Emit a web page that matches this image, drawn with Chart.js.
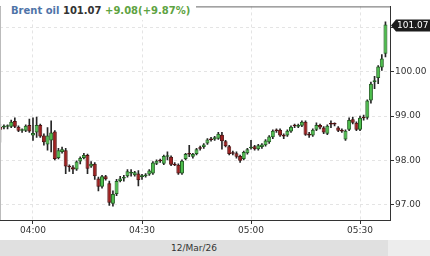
<!DOCTYPE html>
<html><head><meta charset="utf-8">
<script src="https://cdn.jsdelivr.net/npm/chart.js@4.4.1/dist/chart.umd.min.js"></script>
<style>
html,body{margin:0;padding:0;background:#fff;}
#wrap{position:relative;width:430px;height:256px;overflow:hidden;font-family:"DejaVu Sans",Verdana,sans-serif;}
#c{position:absolute;left:0;top:0;}
#title{position:absolute;left:1px;top:1px;height:19px;padding:4px 6px 0 10px;box-sizing:border-box;background:#fff;font-size:10px;font-weight:bold;line-height:12px;white-space:nowrap;}
#title .n{color:#4f74a8;}
#title .p{color:#333;}
#title .ch{color:#5ea342;}
#band{position:absolute;left:0;top:240px;width:388px;height:16px;background:#e0e0e0;font-size:9px;color:#333;text-align:center;line-height:16px;}
#band2{position:absolute;left:388px;top:240px;width:42px;height:16px;background:#ededed;}
</style>
</head><body>
<div id="wrap">
<canvas id="c" width="430" height="256"></canvas>
<div id="title"><span class="n"></span> <span class="p"></span> <span class="ch"></span></div>
<div id="band"></div><div id="band2"></div>
</div>
<script>
const instrument = 'Brent oil';
const lastPrice = 101.07;
const changeText = '+9.08(+9.87%)';
const dateLabel = '12/Mar/26';

const times = [
 '03:51','03:52','03:53','03:54','03:55','03:56','03:57','03:58','03:59',
 '04:00','04:01','04:02','04:03','04:04','04:05','04:06','04:07','04:08','04:09',
 '04:10','04:11','04:12','04:13','04:14','04:15','04:16','04:17','04:18','04:19',
 '04:20','04:21','04:22','04:23','04:24','04:25','04:26','04:27','04:28','04:29',
 '04:30','04:31','04:32','04:33','04:34','04:35','04:36','04:37','04:38','04:39',
 '04:40','04:41','04:42','04:43','04:44','04:45','04:46','04:47','04:48','04:49',
 '04:50','04:51','04:52','04:53','04:54','04:55','04:56','04:57','04:58','04:59',
 '05:00','05:01','05:02','05:03','05:04','05:05','05:06','05:07','05:08','05:09',
 '05:10','05:11','05:12','05:13','05:14','05:15','05:16','05:17','05:18','05:19',
 '05:20','05:21','05:22','05:23','05:24','05:25','05:26','05:27','05:28','05:29',
 '05:30','05:31','05:32','05:33','05:34','05:35','05:36','05:37'
];
const opens = [
 98.76,98.74,98.76,98.76,98.89,98.76,98.67,98.67,98.80,
 98.56,98.63,98.80,98.56,98.36,98.45,98.65,98.05,98.19,98.23,
 97.86,97.84,97.79,97.97,98.05,98.12,97.86,97.92,97.59,97.40,
 97.64,97.48,97.02,97.24,97.53,97.59,97.64,97.70,97.66,97.70,
 97.62,97.64,97.68,97.70,97.92,97.99,97.92,98.08,98.08,97.92,
 97.90,97.70,98.03,98.14,98.08,98.14,98.27,98.30,98.38,98.47,
 98.47,98.49,98.58,98.43,98.32,98.16,98.16,98.10,98.03,98.16,
 98.27,98.32,98.25,98.30,98.34,98.41,98.52,98.67,98.69,98.58,
 98.56,98.65,98.78,98.76,98.78,98.87,98.60,98.56,98.69,98.80,
 98.74,98.60,98.82,98.82,98.74,98.69,98.47,98.69,98.93,98.85,
 98.69,98.96,98.96,99.35,99.77,99.86,100.10,100.41
];
const highs = [
 98.82,98.80,98.80,98.91,98.96,98.78,98.71,98.80,98.93,
 98.96,98.98,98.82,98.60,98.74,98.89,98.67,98.27,98.30,98.27,
 97.90,97.88,97.99,98.08,98.16,98.14,97.97,97.95,97.62,97.66,
 97.66,97.53,97.31,97.57,97.64,97.66,97.79,97.79,97.75,97.77,
 97.68,97.70,97.79,97.97,98.01,98.03,98.12,98.19,98.10,97.95,
 97.92,98.01,98.16,98.34,98.16,98.27,98.32,98.38,98.49,98.52,
 98.54,98.63,98.63,98.45,98.34,98.21,98.19,98.12,98.21,98.27,
 98.45,98.34,98.36,98.38,98.47,98.56,98.69,98.71,98.71,98.60,
 98.69,98.78,98.82,98.82,98.89,98.89,98.63,98.71,98.85,98.82,
 98.76,98.80,98.89,98.85,98.76,98.71,98.69,98.96,98.98,98.87,
 99.00,99.02,99.37,99.77,99.90,100.14,100.39,101.13
];
const lows = [
 98.41,98.71,98.71,98.74,98.74,98.65,98.63,98.65,98.63,
 98.45,98.52,98.52,98.34,98.23,98.19,98.01,98.03,98.16,97.70,
 97.75,97.70,97.77,97.92,98.03,97.70,97.84,97.57,97.31,97.37,
 97.55,96.98,96.96,97.20,97.51,97.53,97.62,97.64,97.64,97.42,
 97.57,97.62,97.66,97.68,97.90,97.95,97.90,98.01,97.88,97.88,
 97.68,97.68,98.01,98.08,98.05,98.12,98.23,98.27,98.36,98.43,
 98.45,98.47,98.25,98.30,98.12,98.12,98.05,97.95,98.01,98.14,
 98.25,98.23,98.23,98.27,98.32,98.38,98.49,98.63,98.54,98.49,
 98.54,98.63,98.74,98.74,98.76,98.56,98.52,98.54,98.67,98.71,
 98.60,98.58,98.74,98.78,98.65,98.63,98.45,98.67,98.82,98.67,
 98.67,98.91,98.93,99.29,99.62,99.73,100.03,100.34
];
const closes = [
 98.69,98.78,98.77,98.87,98.76,98.67,98.68,98.78,98.65,
 98.62,98.80,98.54,98.41,98.56,98.63,98.03,98.23,98.25,97.86,
 97.84,97.79,97.97,98.05,98.12,97.81,97.92,97.64,97.40,97.64,
 97.57,97.04,97.24,97.53,97.59,97.60,97.75,97.73,97.73,97.55,
 97.66,97.68,97.77,97.95,97.99,97.98,98.10,98.09,97.90,97.89,
 97.70,97.99,98.14,98.13,98.14,98.25,98.26,98.36,98.47,98.46,
 98.52,98.60,98.43,98.32,98.14,98.15,98.08,97.99,98.19,98.25,
 98.29,98.25,98.34,98.36,98.45,98.54,98.67,98.66,98.56,98.54,
 98.67,98.76,98.77,98.80,98.87,98.58,98.56,98.69,98.80,98.74,
 98.63,98.78,98.81,98.81,98.67,98.65,98.67,98.91,98.85,98.69,
 98.96,98.95,99.35,99.73,99.81,100.12,100.30,101.07
];

document.querySelector('#title .n').textContent = instrument;
document.querySelector('#title .p').textContent = lastPrice.toFixed(2);
document.querySelector('#title .ch').textContent = changeText;
document.getElementById('band').textContent = dateLabel;

const toMin = t => { const p = t.split(':').map(Number); return (p[0] - 4) * 60 + p[1]; };
const fmtMin = v => { const tot = 240 + v; const h = Math.floor(tot / 60), m = tot % 60; return String(h).padStart(2,'0') + ':' + String(m).padStart(2,'0'); };

const up = i => closes[i] >= opens[i];
const bodyData = times.map((t, i) => ({x: toMin(t), y: [opens[i], closes[i]]}));
const wickData = times.map((t, i) => ({x: toMin(t), y: [lows[i], highs[i]]}));

const FONT = 'DejaVu Sans';

const framePlugin = {
  id: 'frame',
  afterDraw(chart) {
    const {ctx, chartArea: a} = chart;
    ctx.save();
    ctx.strokeStyle = '#666';
    ctx.lineWidth = 1;
    ctx.beginPath();
    ctx.moveTo(a.left, a.top + 0.5); ctx.lineTo(a.right, a.top + 0.5);
    ctx.stroke();
    ctx.strokeStyle = '#bbb';
    ctx.beginPath();
    ctx.moveTo(a.left + 0.5, a.top); ctx.lineTo(a.left + 0.5, a.bottom);
    ctx.stroke();
    // current price marker
    const y = Math.round(chart.scales.y.getPixelForValue(lastPrice)) + 0.5;
    const x0 = a.right + 1;
    ctx.fillStyle = '#1c1c1c';
    ctx.beginPath();
    ctx.moveTo(x0, y);
    ctx.lineTo(x0 + 5, y - 6);
    ctx.lineTo(430, y - 6);
    ctx.lineTo(430, y + 6);
    ctx.lineTo(x0 + 5, y + 6);
    ctx.closePath();
    ctx.fill();
    ctx.fillStyle = '#fff';
    ctx.font = '9px "' + FONT + '"';
    ctx.textBaseline = 'middle';
    ctx.textAlign = 'left';
    ctx.fillText(lastPrice.toFixed(2), x0 + 6, y + 0.5);
    ctx.restore();
  }
};

const gridCommon = {color: '#e4e4e4', lineWidth: 1, tickColor: '#333', tickLength: 4, offset: false};

new Chart(document.getElementById('c'), {
  type: 'bar',
  data: {
    datasets: [
      {
        label: 'body', data: bodyData, grouped: false, order: 0,
        barPercentage: 1.1, categoryPercentage: 1, maxBarThickness: 4, minBarLength: 1.5,
        borderWidth: 1, borderSkipped: false,
        backgroundColor: c => up(c.dataIndex) ? '#4cc04c' : '#a11e1e',
        borderColor: c => up(c.dataIndex) ? '#226022' : '#521010'
      },
      {
        label: 'wick', data: wickData, grouped: false, order: 1,
        barPercentage: 1, categoryPercentage: 1, maxBarThickness: 1,
        borderWidth: 0, backgroundColor: '#262626'
      }
    ]
  },
  options: {
    responsive: false, animation: false, devicePixelRatio: 1,
    layout: {padding: 0},
    plugins: {legend: {display: false}, tooltip: {enabled: false}},
    scales: {
      x: {
        type: 'linear', min: -9.08, max: 98.25, offset: false,
        ticks: {stepSize: 30, includeBounds: false, autoSkip: false, maxRotation: 0, padding: 1,
          color: '#333', font: {family: FONT, size: 9}, callback: v => fmtMin(v)},
        grid: gridCommon,
        border: {display: true, color: '#333', dash: [3, 3]},
        afterFit: s => { s.height = 36; }
      },
      y: {
        position: 'right', min: 96.65, max: 101.48,
        ticks: {stepSize: 1, includeBounds: false, padding: 1,
          color: '#333', font: {family: FONT, size: 9},
          callback: v => (Math.abs(v - 101) < 1e-6 ? '' : Number(v).toFixed(2))},
        grid: gridCommon,
        border: {display: true, color: '#333', dash: [3, 3]},
        afterFit: s => { s.width = 40; }
      }
    }
  },
  plugins: [framePlugin]
});
</script>
</body></html>
